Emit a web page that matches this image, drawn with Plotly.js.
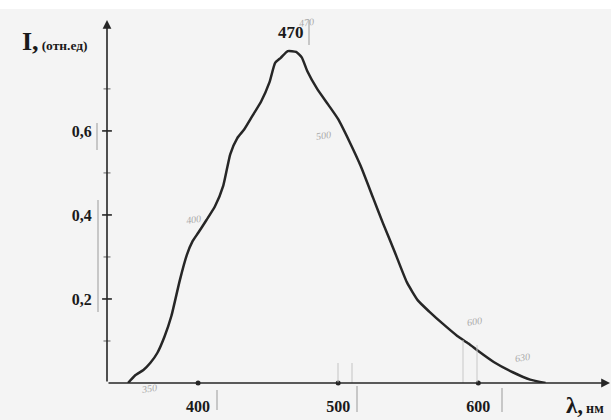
<!DOCTYPE html>
<html>
<head>
<meta charset="utf-8">
<script src="https://cdn.plot.ly/plotly-3.0.1.min.js"></script>
<style>html,body{margin:0;padding:0;background:#f4f4f4;}#chart{width:611px;height:420px;}</style>
</head>
<body>
<div id="chart"></div>
<script>
// Emission spectrum
const wavelength = [350, 355, 361, 366, 371, 376, 381, 387, 392, 396, 400, 406, 412, 418, 423, 428, 433, 439, 445, 451, 455, 459, 464, 470, 474, 478, 485, 493, 500, 508, 516, 525, 532, 540, 549, 557, 565, 575, 585, 593, 600, 611, 625, 637, 648];
const intensity  = [0, 0.018, 0.031, 0.048, 0.072, 0.11, 0.16, 0.245, 0.305, 0.337, 0.357, 0.388, 0.42, 0.47, 0.545, 0.583, 0.604, 0.637, 0.67, 0.716, 0.762, 0.774, 0.79, 0.788, 0.775, 0.742, 0.70, 0.662, 0.628, 0.575, 0.517, 0.44, 0.38, 0.315, 0.24, 0.196, 0.17, 0.14, 0.112, 0.094, 0.076, 0.05, 0.025, 0.008, 0];

const xTickVals = [400, 500, 600];
const xTickText = ['400', '500', '600'];
const yTickVals = [0.2, 0.4, 0.6];
const yTickText = ['0,2', '0,4', '0,6'];
const yMinorVals = [0.1, 0.3, 0.5, 0.7];
const peakLabel = '470';
const pencilNotes = ['350', '400', '500', '600', '630', '470'];

const W = 611, H = 420, L = 107, R = 1, T = 20, B = 37;
const pw = W - L - R, ph = H - T - B;
const px = p => (p - L) / pw;
const py = p => (H - B - p) / ph;
const X0 = 335, X1 = 694, Y1 = 0.864;

const ink = '#262626';
const serif = 'Liberation Serif, Times New Roman, serif';

const traces = [
  {x: wavelength, y: intensity, mode: 'lines', line: {color: ink, width: 2.5, shape: 'spline', smoothing: 0.5}, hoverinfo: 'skip'},
  {x: xTickVals, y: xTickVals.map(() => 0), mode: 'markers', marker: {color: ink, size: 5}, hoverinfo: 'skip', cliponaxis: false},
  {x: yTickVals.map(() => X0), y: yTickVals, mode: 'markers', marker: {symbol: 'line-ew', size: 7, line: {color: ink, width: 1.6}}, hoverinfo: 'skip', cliponaxis: false},
  {x: yMinorVals.map(() => X0), y: yMinorVals, mode: 'markers', marker: {symbol: 'line-ew', size: 5, line: {color: '#666', width: 1}}, hoverinfo: 'skip', cliponaxis: false}
];

function vline(xp, y0p, y1p, color, w) {
  return {type: 'line', xref: 'paper', yref: 'paper', x0: px(xp), x1: px(xp), y0: py(y0p), y1: py(y1p), line: {color: color || '#9a9a9a', width: w || 1}};
}

const shapes = [
  {type: 'rect', xref: 'paper', yref: 'paper', x0: px(0), x1: px(W), y0: py(0), y1: py(9), fillcolor: '#ffffff', line: {width: 0}, layer: 'below'},
  vline(97, 123, 150), vline(98, 200, 312),
  vline(217, 390, 410), vline(357, 386, 412), vline(502, 388, 412), vline(309, 20, 45),
  vline(338, 363, 383, '#c4c4c4'), vline(352, 363, 383, '#c4c4c4'),
  vline(463, 340, 383, '#c8c8c8'), vline(477, 345, 383, '#c8c8c8')
];

const pencil = {family: serif, size: 10, color: '#a8a8a8'};
const pencilPos = [[138, 397], [183, 219], [323, 127], [485, 330], [533, 366], [306, 14]];

const annotations = [
  {x: X1, y: 0, ax: X0, ay: 0, xref: 'x', yref: 'y', axref: 'x', ayref: 'y', text: '', showarrow: true, arrowhead: 2, arrowsize: 1.1, arrowwidth: 1.6, arrowcolor: ink},
  {x: X0, y: Y1, ax: X0, ay: 0, xref: 'x', yref: 'y', axref: 'x', ayref: 'y', text: '', showarrow: true, arrowhead: 2, arrowsize: 1.1, arrowwidth: 1.6, arrowcolor: ink},
  {xref: 'paper', yref: 'paper', x: px(20), y: py(42), xanchor: 'left', yanchor: 'middle', showarrow: false,
   text: '<b><span style="font-size:26px">I,</span> <span style="font-size:13.5px">(отн.ед)</span></b>', font: {family: serif, color: '#1a1a1a'}},
  {xref: 'paper', yref: 'paper', x: px(564), y: py(405), xanchor: 'left', yanchor: 'middle', showarrow: false,
   text: '<b><span style="font-size:23px">λ,</span> <span style="font-size:14px">нм</span></b>', font: {family: serif, color: '#1a1a1a'}},
  {xref: 'paper', yref: 'paper', x: px(291), y: py(32), xanchor: 'center', yanchor: 'middle', showarrow: false,
   text: '<b>' + peakLabel + '</b>', font: {family: serif, size: 17, color: '#1a1a1a'}}
].concat(pencilNotes.map((t, i) => ({xref: 'paper', yref: 'paper', x: px(pencilPos[i][0]), y: py(pencilPos[i][1]), showarrow: false,
   text: '<i>' + t + '</i>', font: pencil, textangle: -8})));

const layout = {
  width: W, height: H,
  margin: {l: L, r: R, t: T, b: B, pad: 0},
  paper_bgcolor: '#f4f4f4', plot_bgcolor: 'rgba(0,0,0,0)',
  showlegend: false,
  xaxis: {range: [X0, X1], showgrid: false, zeroline: false, showline: false,
          tickvals: xTickVals, ticktext: xTickText, ticks: 'outside', ticklen: 9, tickcolor: 'rgba(0,0,0,0)',
          tickfont: {family: serif, size: 16, color: '#1a1a1a', weight: 'bold'}},
  yaxis: {range: [0, Y1], showgrid: false, zeroline: false, showline: false,
          tickvals: yTickVals, ticktext: yTickText, ticks: 'outside', ticklen: 11, tickcolor: 'rgba(0,0,0,0)',
          tickfont: {family: serif, size: 16, color: '#1a1a1a', weight: 'bold'}},
  shapes: shapes,
  annotations: annotations
};

Plotly.newPlot('chart', traces, layout, {displayModeBar: false, staticPlot: true});
</script>
</body>
</html>
